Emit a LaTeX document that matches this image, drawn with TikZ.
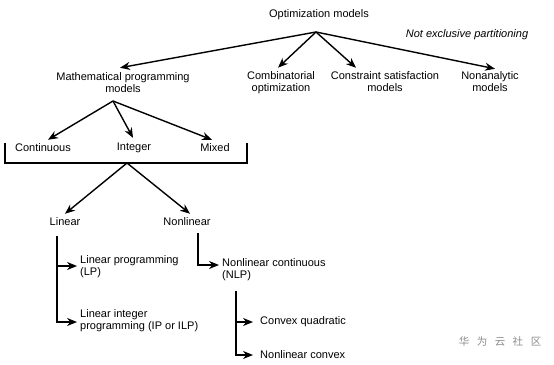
\documentclass[tikz,border=0pt]{standalone}
\usepackage{fontspec}
\setmainfont{Liberation Sans}
\newfontfamily\cjk{Noto Sans CJK SC}
\usetikzlibrary{arrows.meta}
\begin{document}
\begin{tikzpicture}[x=1pt,y=-1pt,
  lbl/.style={font=\fontsize{11}{12}\selectfont, inner sep=3pt, align=center},
  lft/.style={lbl, align=left, anchor=west},
  arr/.style={-{Stealth[length=10pt,width=8pt]}, line width=1.4pt},
  ln/.style={line width=1.4pt}]
\useasboundingbox (0,0) rectangle (554,364);

% top level
\node[lbl] (opt) at (319,15) {Optimization models};
\coordinate (apex) at (316,32);
\node[lbl, font=\fontsize{11}{12}\selectfont\itshape] (note) at (467,35) {Not exclusive partitioning};

\node[lbl] (math) at (123,83) {Mathematical programming\\models};
\node[lbl] (comb) at (281,83) {Combinatorial\\optimization};
\node[lbl] (cons) at (385,82) {Constraint satisfaction\\models};
\node[lbl] (nona) at (490,82) {Nonanalytic\\models};

\draw[arr] (apex) -- ([xshift=-3pt,yshift=2pt]math.north);
\draw[arr] (apex) -- ([xshift=-3pt,yshift=1pt]comb.north);
\draw[arr] (apex) -- ([xshift=-29pt,yshift=1pt]cons.north);
\draw[arr] (apex) -- ([xshift=5pt]nona.north);

% math programming children
\coordinate (mhub) at (113,101);
\node[lbl] (cont) at (43,148) {Continuous};
\node[lbl] (intg) at (134,148) {Integer};
\node[lbl] (mixd) at (215,148) {Mixed};
\draw[arr] (mhub) -- ([xshift=5pt,yshift=1pt]cont.north);
\draw[arr] (mhub) -- ([xshift=-1pt,yshift=2pt]intg.north);
\draw[arr] (mhub) -- ([xshift=-3pt,yshift=1pt]mixd.north);

% bracket
\coordinate (bl) at (5,143);
\coordinate (br) at (247,143);
\coordinate (bhub) at (127,163);
\draw[ln] (bl) |- (bhub) -| (br);

% linear / nonlinear
\node[lbl] (lin) at (65,222) {Linear};
\node[lbl] (nonl) at (187,222) {Nonlinear};
\draw[arr] (bhub) -- ([yshift=1pt]lin.north);
\draw[arr] (bhub) -- ([xshift=3pt,yshift=1pt]nonl.north);

% linear branch
\coordinate (linstem) at (57,236);
\node[lft] (lp) at (77,267) {Linear programming\\(LP)};
\node[lft] (ilp) at (77,321) {Linear integer\\programming (IP or ILP)};
\draw[arr] (linstem) |- ([yshift=1pt]lp.west);
\draw[arr] (linstem) |- ([yshift=-1pt]ilp.west);

% nonlinear branch
\coordinate (nlstem) at (198,233);
\node[lft] (nlp) at (219,270) {Nonlinear continuous\\(NLP)};
\draw[arr] (nlstem) |- ([yshift=5pt]nlp.west);

\coordinate (nlpstem) at (236,291);
\node[lft] (cq) at (257,322) {Convex quadratic};
\node[lft] (nc) at (257,355) {Nonlinear convex};
\draw[arr] (nlpstem) |- ([xshift=-4pt]cq.west);
\draw[arr] (nlpstem) |- ([xshift=-4pt]nc.west);

% watermark
\node[font=\cjk\fontsize{10.5}{12}\selectfont, text=black!45, inner sep=0pt] (wm) at (500,342)
  {华\hspace{7.5pt}为\hspace{7.5pt}云\hspace{7.5pt}社\hspace{7.5pt}区};
\end{tikzpicture}
\end{document}
